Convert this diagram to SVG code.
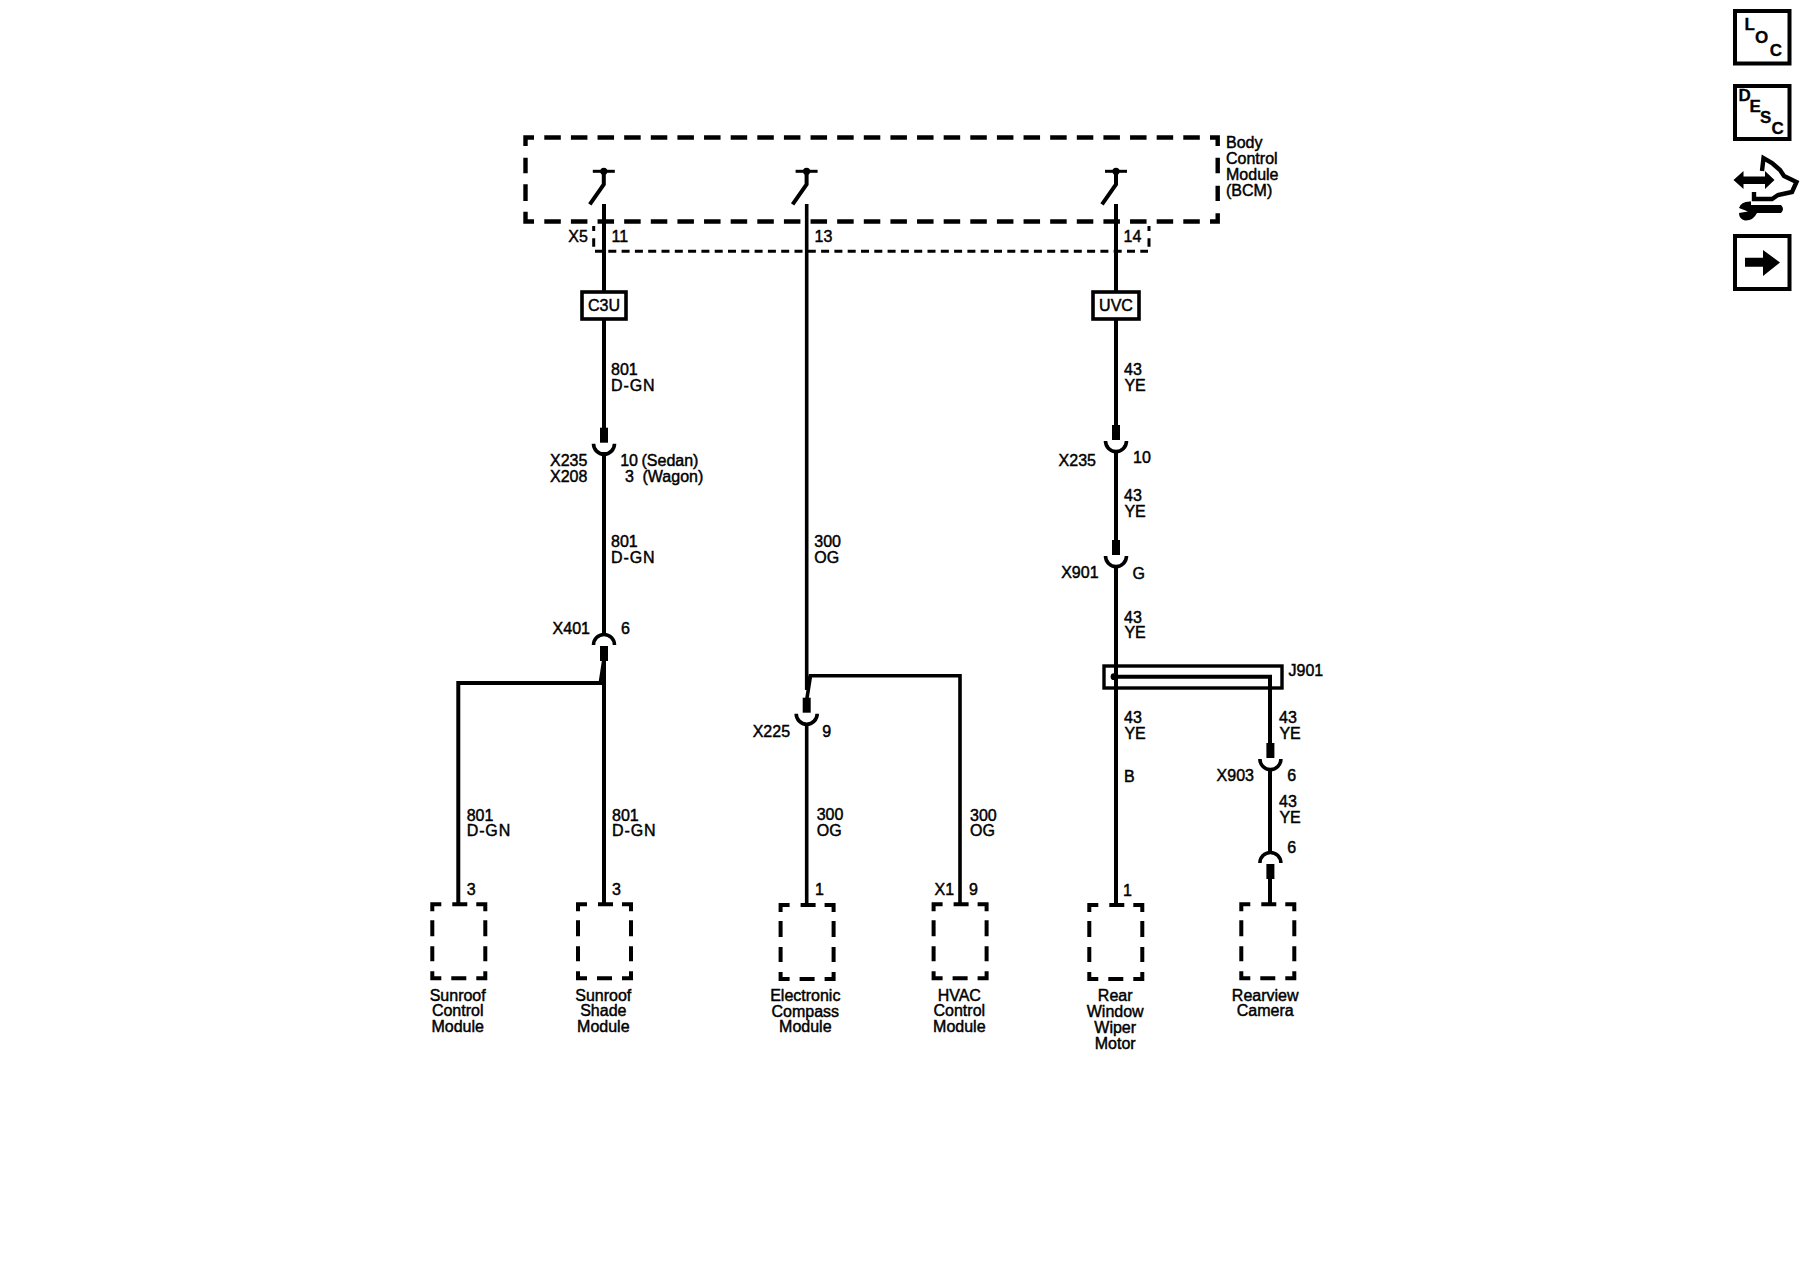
<svg xmlns="http://www.w3.org/2000/svg" xmlns:xlink="http://www.w3.org/1999/xlink" width="1800" height="1280" viewBox="0 0 1800 1280">
<style>
text{font-family:"Liberation Sans",Arial,sans-serif;font-size:16px;fill:#000;stroke:#000;stroke-width:.45px}
.c{text-anchor:middle}
.b{font-weight:bold;font-size:17px;stroke-width:.3px}
.g{letter-spacing:.9px}
.w{fill:none;stroke:#000;stroke-width:4}
.m{fill:none;stroke:#000;stroke-width:3.6}
.d{fill:none;stroke:#000;stroke-width:4.4}
.t{fill:none;stroke:#000;stroke-width:3}
.box{fill:#fff;stroke:#000;stroke-width:3.6}
.ic{fill:#fff;stroke:#000;stroke-width:4}
</style>
<defs>
<g id="cup"><rect x="-4" y="-15" width="8" height="15"/><path d="M-10.5 1A10.5 10.5 0 0 0 10.5 1" fill="none" stroke="#000" stroke-width="3.6"/></g>
<g id="cap"><rect x="-4" y="0" width="8" height="15"/><path d="M-10.5 -1A10.5 10.5 0 0 1 10.5 -1" fill="none" stroke="#000" stroke-width="3.6"/></g>
<path id="mod" d="M0 7V0H9M20 0H35M44 0H53V7M0 16V32M53 16V32M0 42V57M53 42V57M0 67V74H9M19 74H34M44 74H53V67" fill="none" stroke="#000" stroke-width="4"/>
<g id="sw"><path d="M-11 0H11" fill="none" stroke="#000" stroke-width="3"/><circle r="3.6"/><path d="M0 0V13L-14 33" fill="none" stroke="#000" stroke-width="4"/></g>
</defs>
<rect width="1800" height="1280" fill="#fff"/>
<g id="connectors">
<path class="w" d="M604 204V430M604 452V634M604 658V904M604 660L600.5 683H458.3V904"/>
<path class="m" d="M806.7 204V690M806.7 700L810.5 675.7H960V904M806.7 726V904"/>
<path class="w" d="M1116 204V427M1116 451V542M1116 566V904"/>
<path class="w" d="M1116 676.7H1270V744M1270 768V853M1270 877V904"/>
<circle cx="1114" cy="676.7" r="3.4"/>
</g>
<g id="bcm">
<path class="d" d="M525.5 146V137.5H534M525.5 157.7V173.3M525.5 184.3V201M525.5 211.7V221.5H534M1210 137.5H1217.7V146M1217.7 157.7V173.3M1217.7 185.7V201M1217.7 213.3V221.5H1210"/>
<path class="d" stroke-dasharray="16.5 10.125" d="M544.3 137.5H1200M544.3 221.5H1200"/>
<use xlink:href="#sw" href="#sw" x="603.8" y="171.3"/>
<use xlink:href="#sw" href="#sw" x="806.6" y="171.3"/>
<use xlink:href="#sw" href="#sw" x="1116" y="171.3"/>
<text x="1226" y="147.7">Body</text>
<text x="1226" y="164">Control</text>
<text x="1226" y="179.5">Module</text>
<text x="1226" y="196">(BCM)</text>
</g>
<g id="x5">
<path class="t" d="M593.7 226V231M593.7 238.3V246.7M1149 226V231M1149 238.3V246.7"/>
<path class="t" stroke-dasharray="8 5.3" d="M595 251.3H1148"/>
<text x="568.3" y="241.7">X5</text>
<text x="611.5" y="241.7">11</text>
<text x="814.5" y="241.7">13</text>
<text x="1123.5" y="241.7">14</text>
</g>
<g id="c3u"><rect class="box" x="582" y="292" width="44" height="27"/><text class="c" x="604" y="311">C3U</text></g>
<g id="uvc"><rect class="box" x="1093" y="292" width="46" height="27"/><text class="c" x="1116" y="311">UVC</text></g>
<g id="x235a"><use xlink:href="#cup" href="#cup" x="604" y="442.7"/>
<text x="550" y="465.8">X235</text><text x="550" y="481.7">X208</text>
<text x="620.2" y="465.8">10</text><text x="641.5" y="465.8">(Sedan)</text>
<text x="625" y="481.7">3</text><text x="642.5" y="481.7">(Wagon)</text></g>
<g id="x401"><use xlink:href="#cap" href="#cap" x="604" y="646"/>
<text x="552.6" y="633.7">X401</text><text x="621" y="633.7">6</text></g>
<g id="x225"><use xlink:href="#cup" href="#cup" x="806.7" y="712.7"/>
<text x="752.7" y="737">X225</text><text x="822.2" y="737">9</text></g>
<g id="x235b"><use xlink:href="#cup" href="#cup" x="1116" y="440"/>
<text x="1058.6" y="465.8">X235</text><text x="1133" y="463">10</text></g>
<g id="x901"><use xlink:href="#cup" href="#cup" x="1116" y="555"/>
<text x="1061.2" y="578.3">X901</text><text x="1132.4" y="578.5">G</text></g>
<g id="j901"><rect x="1104" y="666" width="178" height="22" fill="none" stroke="#000" stroke-width="3.4"/>
<text x="1288.5" y="675.8">J901</text></g>
<g id="x903"><use xlink:href="#cup" href="#cup" x="1270.4" y="758"/>
<text x="1216.6" y="780.7">X903</text><text x="1287.3" y="780.7">6</text></g>
<g id="x903b"><use xlink:href="#cap" href="#cap" x="1270.4" y="864"/>
<text x="1287.3" y="852.8">6</text></g>
<g id="wire-labels">
<text x="611" y="375">801</text><text class="g" x="611" y="390.7">D-GN</text>
<text x="611" y="546.7">801</text><text class="g" x="611" y="562.7">D-GN</text>
<text x="466.7" y="820.7">801</text><text class="g" x="466.7" y="836">D-GN</text>
<text x="612" y="820.7">801</text><text class="g" x="612" y="836">D-GN</text>
<text x="814.3" y="546.7">300</text><text x="814.3" y="563">OG</text>
<text x="816.7" y="820">300</text><text x="816.7" y="836">OG</text>
<text x="970" y="820.6">300</text><text x="970" y="836">OG</text>
<text x="1124" y="375">43</text><text x="1124.4" y="390.5">YE</text>
<text x="1124" y="500.7">43</text><text x="1124.4" y="516.7">YE</text>
<text x="1124" y="622.7">43</text><text x="1124.4" y="638.3">YE</text>
<text x="1124" y="723">43</text><text x="1124.4" y="738.7">YE</text>
<text x="1124" y="782.3">B</text>
<text x="1279" y="723">43</text><text x="1279.4" y="738.7">YE</text>
<text x="1279" y="806.7">43</text><text x="1279.4" y="822.7">YE</text>
</g>
<g id="sunroof-control"><use xlink:href="#mod" href="#mod" x="432.3" y="904.3"/>
<text x="466.7" y="895">3</text>
<text class="c" x="457.7" y="1000.7">Sunroof</text><text class="c" x="457.7" y="1016">Control</text><text class="c" x="457.7" y="1032">Module</text></g>
<g id="sunroof-shade"><use xlink:href="#mod" href="#mod" x="578" y="904.3"/>
<text x="612" y="895">3</text>
<text class="c" x="603.3" y="1000.5">Sunroof</text><text class="c" x="603.3" y="1015.5">Shade</text><text class="c" x="603.3" y="1031.6">Module</text></g>
<g id="compass"><use xlink:href="#mod" href="#mod" x="780.6" y="905"/>
<text x="815" y="895.3">1</text>
<text class="c" x="805.3" y="1001">Electronic</text><text class="c" x="805.3" y="1016.5">Compass</text><text class="c" x="805.3" y="1032">Module</text></g>
<g id="hvac"><use xlink:href="#mod" href="#mod" x="933.6" y="904.3"/>
<text x="934.5" y="895.3">X1</text><text x="969" y="895.3">9</text>
<text class="c" x="959.3" y="1000.5">HVAC</text><text class="c" x="959.3" y="1015.5">Control</text><text class="c" x="959.3" y="1031.7">Module</text></g>
<g id="wiper"><use xlink:href="#mod" href="#mod" x="1089.3" y="905"/>
<text x="1123" y="895.7">1</text>
<text class="c" x="1115.2" y="1001.3">Rear</text><text class="c" x="1115.2" y="1017">Window</text><text class="c" x="1115.2" y="1033">Wiper</text><text class="c" x="1115.2" y="1048.7">Motor</text></g>
<g id="camera"><use xlink:href="#mod" href="#mod" x="1241.3" y="904.3"/>
<text class="c" x="1265.2" y="1000.7">Rearview</text><text class="c" x="1265.2" y="1016.4">Camera</text></g>
<g id="icon-loc"><rect class="ic" x="1735" y="11" width="54.5" height="52.5"/>
<text class="b" x="1744.5" y="30">L</text><text class="b c" x="1761.7" y="43">O</text><text class="b c" x="1776" y="56">C</text></g>
<g id="icon-desc"><rect class="ic" x="1735" y="86" width="54.5" height="53"/>
<text class="b" x="1738.5" y="101">D</text><text class="b" x="1749.5" y="112">E</text><text class="b" x="1760" y="123.3">S</text><text class="b" x="1771.5" y="134">C</text></g>
<g id="icon-tool">
<path d="M1733.5 180L1743.5 171V176.5H1765V171L1774.5 180L1765 189V184H1743.5V189Z"/>
<path fill="none" stroke="#000" stroke-width="4.4" d="M1762 171L1763.5 158L1772 163L1780 170L1784 176L1796.5 182L1792 192L1778 195L1772 199H1754V192"/>
<path d="M1751 205H1781Q1785 209 1781 213H1757Q1753 221 1745 220.5Q1739 219 1739 213L1748 211.5L1739 208Q1741 201 1751 201.5Z"/>
</g>
<g id="icon-next"><rect class="ic" x="1735" y="236" width="54.5" height="53"/>
<path d="M1745 257.7H1763V250L1780 262.5L1763 276V266.7H1745Z"/></g>
</svg>
